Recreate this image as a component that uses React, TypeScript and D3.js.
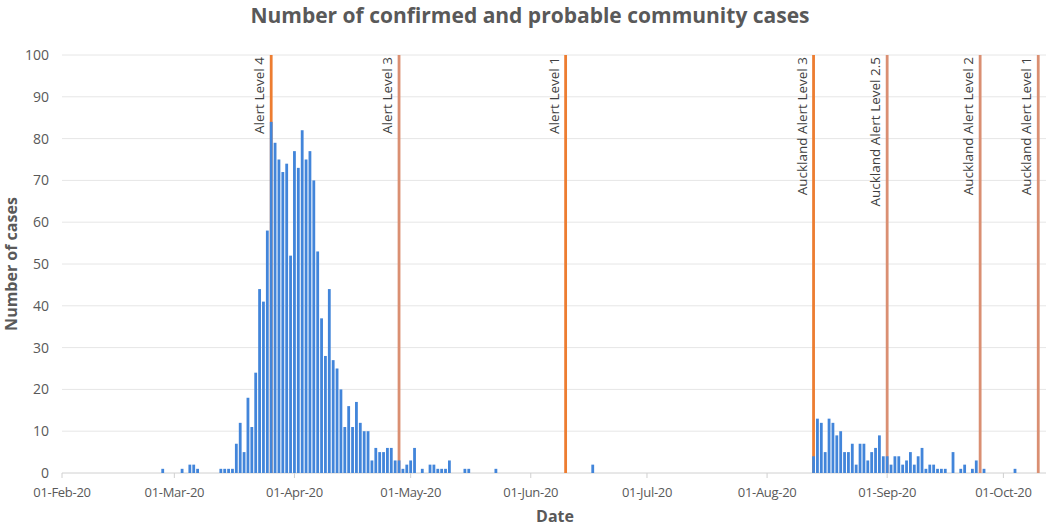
import * as d3 from "d3";
import React, { useEffect, useRef } from "react";

const WIDTH = 1052;
const HEIGHT = 528;

// daily community cases, one value per day from the start date
const WAVE1_START = "2020-02-27";
const WAVE1_CASES = [
  1, 0, 0, 0, 0, 1, 0, 2, 2, 1, 0, 0, 0, 0, 0, 1, 1, 1, 1, 7, 12, 5, 18, 11, 24, 44, 41, 58, 84, 79, 75, 72,
  74, 52, 77, 73, 82, 75, 77, 70, 53, 37, 28, 44, 27, 25, 20, 11, 16, 11, 17, 12, 10, 10, 3, 6, 5, 5, 6, 6,
  3, 3, 1, 2, 3, 6, 0, 1, 0, 2, 2, 1, 1, 1, 3, 0, 0, 0, 1, 1, 0, 0, 0, 0, 0, 0, 1,
];

const STRAY_DATES = ["2020-06-17"];
const STRAY_CASES = [2];

const WAVE2_START = "2020-08-13";
const WAVE2_CASES = [
  4, 13, 12, 5, 13, 12, 9, 10, 5, 5, 7, 2, 7, 7, 3, 5, 6, 9, 4, 4, 2, 4, 4, 2, 3, 5, 2, 4, 6, 1, 2, 2, 1, 1,
  1, 0, 5, 0, 1, 2, 0, 1, 3, 0, 1, 0, 0, 0, 0, 0, 0, 0, 1,
];

const ALERT_LABELS = [
  "Alert Level 4",
  "Alert Level 3",
  "Alert Level 1",
  "Auckland Alert Level 3",
  "Auckland Alert Level 2.5",
  "Auckland Alert Level 2",
  "Auckland Alert Level 1",
];
const ALERT_DATES = [
  "2020-03-26",
  "2020-04-28",
  "2020-06-10",
  "2020-08-13",
  "2020-09-01",
  "2020-09-25",
  "2020-10-10",
];
const ALERT_COLORS = ["#ED7D31", "#DA8F72", "#ED7D31", "#ED7D31", "#DA8F72", "#DA8F72", "#DA8F72"];

const Y_TICKS = [0, 10, 20, 30, 40, 50, 60, 70, 80, 90, 100];
const X_TICKS = ["2020-02-01", "2020-03-01", "2020-04-01", "2020-05-01", "2020-06-01", "2020-07-01", "2020-08-01", "2020-09-01", "2020-10-01"];

const FONT = "'Open Sans', 'Noto Sans', sans-serif";

const parse = d3.utcParse("%Y-%m-%d");

function expand(start: string, values: number[]) {
  const d0 = parse(start) as Date;
  return values.map((v, i) => ({ date: d3.utcDay.offset(d0, i), cases: v }));
}

function drawChart(node: SVGSVGElement) {
  const svg = d3.select(node);
  svg.selectAll("*").remove();

  const margin = { top: 55, right: 6, bottom: 55, left: 62 };
  const x = d3
    .scaleUtc()
    .domain([parse("2020-02-01") as Date, parse("2020-10-12") as Date])
    .range([margin.left, WIDTH - margin.right]);
  const y = d3.scaleLinear().domain([0, 100]).range([HEIGHT - margin.bottom, margin.top]);

  const bars = [
    ...expand(WAVE1_START, WAVE1_CASES),
    ...STRAY_DATES.map((d, i) => ({ date: parse(d) as Date, cases: STRAY_CASES[i] })),
    ...expand(WAVE2_START, WAVE2_CASES),
  ].filter(d => d.cases > 0);

  // title
  svg
    .append("text")
    .attr("x", 530)
    .attr("y", 23)
    .attr("text-anchor", "middle")
    .attr("font-family", FONT)
    .attr("font-weight", 700)
    .attr("font-size", 21)
    .attr("fill", "#595959")
    .text("Number of confirmed and probable community cases");

  // gridlines
  svg
    .append("g")
    .selectAll("line")
    .data(Y_TICKS)
    .join("line")
    .attr("x1", margin.left)
    .attr("x2", WIDTH - margin.right)
    .attr("y1", d => y(d))
    .attr("y2", d => y(d))
    .attr("stroke", d => (d === 0 ? "#d0d0d0" : "#e6e6e6"))
    .attr("stroke-width", 1);

  // y tick labels
  svg
    .append("g")
    .selectAll("text")
    .data(Y_TICKS)
    .join("text")
    .attr("x", 49)
    .attr("y", d => y(d))
    .attr("dy", "0.35em")
    .attr("text-anchor", "end")
    .attr("font-family", FONT)
    .attr("font-size", 14)
    .attr("fill", "#595959")
    .text(d => d);

  // x ticks + labels
  const fmt = d3.utcFormat("%d-%b-%y");
  const xt = svg
    .append("g")
    .selectAll("g")
    .data(X_TICKS.map(d => parse(d) as Date))
    .join("g")
    .attr("transform", d => `translate(${x(d)},${y(0)})`);
  xt.append("line").attr("y1", 0).attr("y2", 5).attr("stroke", "#d0d0d0");
  xt.append("text")
    .attr("y", 24)
    .attr("text-anchor", "middle")
    .attr("font-family", FONT)
    .attr("font-size", 13)
    .attr("letter-spacing", -0.3)
    .attr("fill", "#595959")
    .text(d => fmt(d));

  // alert level lines
  svg
    .append("g")
    .selectAll("line")
    .data(ALERT_DATES)
    .join("line")
    .attr("x1", d => x(parse(d) as Date))
    .attr("x2", d => x(parse(d) as Date))
    .attr("y1", y(100))
    .attr("y2", y(0))
    .attr("stroke", (d, i) => ALERT_COLORS[i])
    .attr("stroke-width", 2.8);

  svg
    .append("g")
    .selectAll("text")
    .data(ALERT_DATES)
    .join("text")
    .attr("transform", d => `translate(${x(parse(d) as Date) - 7},${y(100) + 2}) rotate(-90)`)
    .attr("text-anchor", "end")
    .attr("font-family", FONT)
    .attr("font-size", 13.5)
    .attr("fill", "#404040")
    .text((d, i) => ALERT_LABELS[i]);

  // bars
  const bw = 2.8;
  svg
    .append("g")
    .selectAll("rect")
    .data(bars)
    .join("rect")
    .attr("x", d => x(d.date) - bw / 2)
    .attr("width", bw)
    .attr("y", d => y(d.cases))
    .attr("height", d => y(0) - y(d.cases))
    .attr("fill", "#4285DA");

  // axis titles
  svg
    .append("text")
    .attr("transform", `translate(17,${(y(0) + y(100)) / 2}) rotate(-90)`)
    .attr("text-anchor", "middle")
    .attr("font-family", FONT)
    .attr("font-weight", 700)
    .attr("font-size", 16)
    .attr("fill", "#595959")
    .text("Number of cases");

  svg
    .append("text")
    .attr("x", 555)
    .attr("y", 522)
    .attr("text-anchor", "middle")
    .attr("font-family", FONT)
    .attr("font-weight", 700)
    .attr("font-size", 16)
    .attr("fill", "#595959")
    .text("Date");
}

export default function App() {
  const ref = useRef<SVGSVGElement>(null);

  useEffect(() => {
    if (ref.current) drawChart(ref.current);
  }, []);

  return (
    <svg
      ref={ref}
      width={WIDTH}
      height={HEIGHT}
      style={{ position: "absolute", left: 0, top: 0, background: "#fff" }}
    />
  );
}
